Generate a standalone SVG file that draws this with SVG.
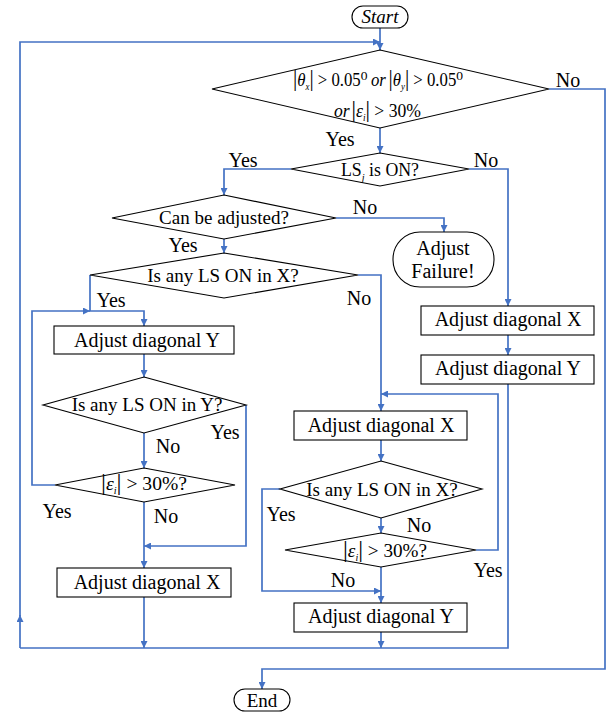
<svg xmlns="http://www.w3.org/2000/svg" width="608" height="713" viewBox="0 0 608 713" font-family="'Liberation Serif', Tinos, 'DejaVu Serif', 'Noto Serif', serif">
<style>
.s{fill:#fff;stroke:#000;stroke-width:1.1}
.t{font-family:'Liberation Serif',Tinos,'DejaVu Serif','Noto Serif',serif;font-size:19px;fill:#000;text-anchor:middle}
.b{font-family:'Liberation Serif',Tinos,'DejaVu Serif','Noto Serif',serif;font-size:20px;fill:#000;text-anchor:middle}
.l{font-family:'Liberation Serif',Tinos,'DejaVu Serif','Noto Serif',serif;font-size:20px;fill:#000;text-anchor:middle}
.m{font-family:'Liberation Serif',Tinos,'DejaVu Serif','Noto Serif',serif;font-size:19px;fill:#000}
.i{font-style:italic}
.c{fill:none;stroke:#4472C4;stroke-width:1.7}
</style>
<defs>
<marker id="a" viewBox="0 0 10 10" refX="10" refY="5" markerWidth="8" markerHeight="7" markerUnits="userSpaceOnUse" orient="auto"><path d="M0,0L10,5L0,10z" fill="#4472C4"/></marker>
</defs>
<g id="connectors">
<path class="c" d="M380,28V50" marker-end="url(#a)"/>
<path class="c" d="M20,648V615" marker-end="url(#a)"/>
<path class="c" d="M20,616V42H380" marker-end="url(#a)"/>
<path class="c" d="M380,128V153" marker-end="url(#a)"/>
<path class="c" d="M549,89H605V669H262V689" marker-end="url(#a)"/>
<path class="c" d="M291,169H224V195" marker-end="url(#a)"/>
<path class="c" d="M469,169H508V306" marker-end="url(#a)"/>
<path class="c" d="M336,218H444V232" marker-end="url(#a)"/>
<path class="c" d="M224,239V253" marker-end="url(#a)"/>
<path class="c" d="M90,275V311H144V326" marker-end="url(#a)"/>
<path class="c" d="M358,275H381V411" marker-end="url(#a)"/>
<path class="c" d="M55,485H32V311H90" marker-end="url(#a)"/>
<path class="c" d="M144,354V377" marker-end="url(#a)"/>
<path class="c" d="M246,405V546H144" marker-end="url(#a)"/>
<path class="c" d="M144,433V468" marker-end="url(#a)"/>
<path class="c" d="M144,502V568" marker-end="url(#a)"/>
<path class="c" d="M144,597V648" marker-end="url(#a)"/>
<path class="c" d="M508,335V355" marker-end="url(#a)"/>
<path class="c" d="M508,384V648H20"/>
<path class="c" d="M381,440V461" marker-end="url(#a)"/>
<path class="c" d="M280,489H262V591H381" marker-end="url(#a)"/>
<path class="c" d="M381,518V533" marker-end="url(#a)"/>
<path class="c" d="M381,567V603" marker-end="url(#a)"/>
<path class="c" d="M476,550H498V394H381" marker-end="url(#a)"/>
<path class="c" d="M381,632V648" marker-end="url(#a)"/>
</g>
<g id="labels">
<text class="l" x="340" y="146">Yes</text>
<text class="l" x="568" y="87">No</text>
<text class="l" x="243" y="167">Yes</text>
<text class="l" x="486" y="167">No</text>
<text class="l" x="365" y="214">No</text>
<text class="l" x="183" y="252">Yes</text>
<text class="l" x="359" y="305">No</text>
<text class="l" x="111" y="307">Yes</text>
<text class="l" x="225" y="439">Yes</text>
<text class="l" x="168" y="453">No</text>
<text class="l" x="57" y="518">Yes</text>
<text class="l" x="166" y="523">No</text>
<text class="l" x="281" y="521">Yes</text>
<text class="l" x="419" y="532">No</text>
<text class="l" x="488" y="577">Yes</text>
<text class="l" x="343" y="587">No</text>
</g>
<g id="start">
<rect class="s" x="352" y="6" width="56" height="22" rx="11"/>
<text class="t i" x="380" y="23" font-size="17.5">Start</text>
</g>
<g id="cond-main">
<polygon class="s" points="380,50 549,89 380,128 212,89"/>
<text class="m" x="293" y="86" textLength="170" lengthAdjust="spacingAndGlyphs"><tspan font-size="24">|</tspan><tspan class="i">θ</tspan><tspan class="i" font-size="10" dy="4">x</tspan><tspan font-size="24" dy="-4">|</tspan> &gt; 0.05⁰<tspan class="i" dx="4">or</tspan><tspan font-size="24" dx="3">|</tspan><tspan class="i">θ</tspan><tspan class="i" font-size="10" dy="4">y</tspan><tspan font-size="24" dy="-4">|</tspan> &gt; 0.05⁰</text>
<text class="m" x="334" y="117" textLength="87" lengthAdjust="spacingAndGlyphs"><tspan class="i">or</tspan><tspan font-size="24" dx="2">|</tspan><tspan class="i">ε</tspan><tspan class="i" font-size="10" dy="4">i</tspan><tspan font-size="24" dy="-4">|</tspan> &gt; 30%</text>
</g>
<g id="cond-ls">
<polygon class="s" points="380,153 469,169 380,186 291,169"/>
<text class="m" x="341" y="176" textLength="78" lengthAdjust="spacingAndGlyphs">LS<tspan class="i" font-size="11" dy="5">j</tspan><tspan dy="-5"> is ON?</tspan></text>
</g>
<g id="cond-adjust">
<polygon class="s" points="224,195 336,218 224,239 112,218"/>
<text class="t" x="224" y="224">Can be adjusted?</text>
</g>
<g id="fail">
<rect class="s" x="393" y="232" width="101" height="55" rx="27"/>
<text class="b" x="443" y="255">Adjust</text>
<text class="b" x="443" y="278">Failure!</text>
</g>
<g id="cond-x1">
<polygon class="s" points="224,253 358,275 224,298 90,275"/>
<text class="t" x="223" y="282">Is any LS ON in X?</text>
</g>
<g id="box-y1">
<rect class="s" x="54" y="326" width="180" height="28"/>
<text class="b" x="147" y="347">Adjust diagonal Y</text>
</g>
<g id="cond-y1">
<polygon class="s" points="144,377 246,405 144,433 43,405"/>
<text class="t" x="147" y="411">Is any LS ON in Y?</text>
</g>
<g id="cond-e1">
<polygon class="s" points="144,468 235,485 144,502 55,485"/>
<text class="m" x="101" y="490" textLength="86" lengthAdjust="spacingAndGlyphs"><tspan font-size="24">|</tspan><tspan class="i">ε</tspan><tspan class="i" font-size="10" dy="4">i</tspan><tspan font-size="24" dy="-4">|</tspan> &gt; 30%?</text>
</g>
<g id="box-x1">
<rect class="s" x="57" y="568" width="174" height="29"/>
<text class="b" x="147" y="589">Adjust diagonal X</text>
</g>
<g id="box-x2">
<rect class="s" x="421" y="306" width="173" height="29"/>
<text class="b" x="508" y="326">Adjust diagonal X</text>
</g>
<g id="box-y2">
<rect class="s" x="421" y="355" width="173" height="29"/>
<text class="b" x="508" y="375">Adjust diagonal Y</text>
</g>
<g id="box-x3">
<rect class="s" x="294" y="411" width="173" height="29"/>
<text class="b" x="381" y="432">Adjust diagonal X</text>
</g>
<g id="cond-x3">
<polygon class="s" points="381,461 482,489 381,518 280,489"/>
<text class="t" x="382" y="496">Is any LS ON in X?</text>
</g>
<g id="cond-e3">
<polygon class="s" points="381,533 476,550 381,567 285,550"/>
<text class="m" x="343" y="557" textLength="84" lengthAdjust="spacingAndGlyphs"><tspan font-size="24">|</tspan><tspan class="i">ε</tspan><tspan class="i" font-size="10" dy="4">i</tspan><tspan font-size="24" dy="-4">|</tspan> &gt; 30%?</text>
</g>
<g id="box-y3">
<rect class="s" x="294" y="603" width="173" height="29"/>
<text class="b" x="381" y="623">Adjust diagonal Y</text>
</g>
<g id="end">
<rect class="s" x="234" y="689" width="56" height="22" rx="11"/>
<text class="t" x="262" y="707" font-size="20">End</text>
</g>
</svg>
